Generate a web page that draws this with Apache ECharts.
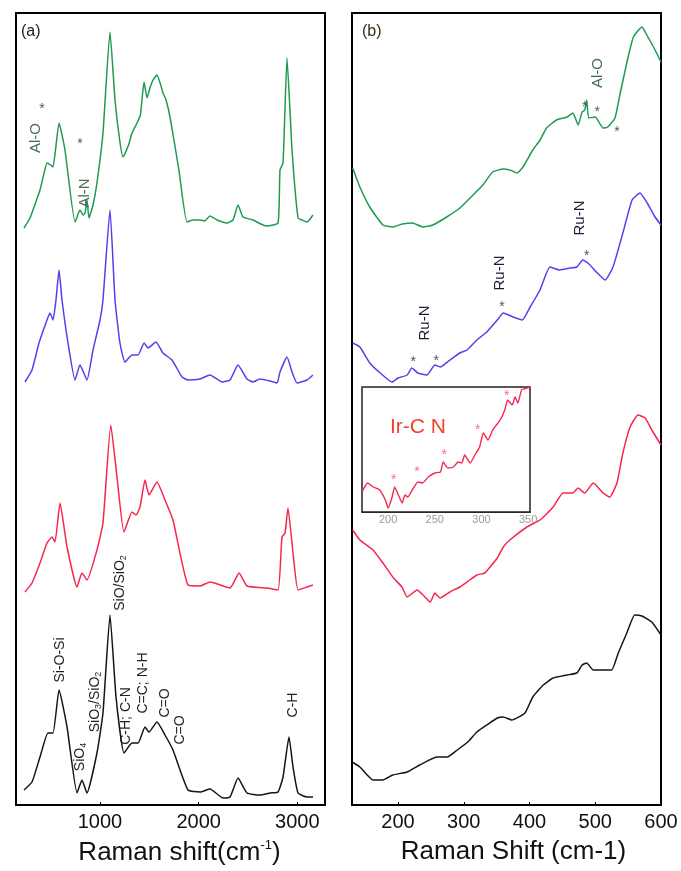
<!DOCTYPE html>
<html><head><meta charset="utf-8">
<script src="https://cdn.jsdelivr.net/npm/echarts@6/dist/echarts.min.js"></script>
<style>html,body{margin:0;padding:0;background:#fff}#c{width:681px;height:871px}</style>
</head><body><div id="c"></div>
<script>
// ---------- Panel (a): Raman shift (cm-1) vs intensity (a.u., offset) ----------
const aGreen = [[231,577],[292,587],[340,600],[393,615],[430,630],[464,642],[500,640],[525,638],[586,682],[646,655],[748,583],[798,595],[830,590],[849,592],[869,605],[889,587],[930,600],[970,622],[1031,672],[1102,773],[1153,705],[1200,665],[1234,648],[1290,660],[1325,672],[1376,682],[1410,690],[1447,723],[1477,707],[1510,718],[1538,725],[1578,730],[1610,722],[1639,712],[1670,705],[1710,688],[1800,635],[1882,583],[1943,585],[2014,585],[2060,584],[2115,589],[2186,585],[2287,582],[2348,585],[2399,600],[2450,588],[2551,585],[2652,580],[2693,579],[2804,582],[2824,635],[2855,642],[2895,747],[2946,655],[3007,587],[3050,585],[3098,583],[3158,590]];
const aBlue = [[241,423],[312,435],[383,462],[464,485],[494,492],[525,485],[555,505],[586,535],[616,505],[677,462],[748,425],[798,440],[869,425],[930,455],[1001,485],[1031,505],[1102,595],[1153,505],[1203,462],[1254,443],[1325,450],[1386,450],[1447,462],[1487,457],[1568,463],[1639,452],[1730,445],[1832,428],[1892,425],[2014,426],[2115,430],[2237,423],[2318,425],[2399,440],[2490,426],[2551,423],[2622,426],[2723,424],[2794,422],[2824,433],[2895,448],[2946,433],[2997,422],[3098,425],[3158,430]];
const aRed = [[241,213],[312,222],[393,242],[464,262],[515,268],[545,263],[596,302],[667,258],[768,218],[818,232],[869,225],[970,255],[1031,282],[1110,380],[1173,328],[1244,273],[1325,293],[1366,290],[1406,298],[1457,325],[1497,310],[1578,323],[1659,305],[1740,285],[1892,220],[2014,219],[2115,223],[2318,217],[2409,232],[2490,219],[2693,217],[2804,215],[2844,268],[2875,272],[2905,297],[2956,252],[3007,215],[3098,218],[3158,220]];
const aBlack = [[231,15],[312,23],[393,48],[474,72],[525,72],[586,115],[667,78],[768,12],[818,25],[869,12],[970,52],[1031,92],[1102,190],[1163,108],[1244,52],[1325,62],[1386,62],[1457,78],[1497,73],[1578,83],[1659,70],[1740,55],[1892,15],[2014,13],[2115,16],[2247,7],[2318,8],[2399,27],[2490,12],[2622,10],[2723,12],[2804,13],[2855,28],[2915,68],[2956,38],[3007,12],[3098,8],[3158,8]];

// ---------- Panel (b) ----------
const bGreen = [[131,637],[142,618],[157,598],[177,580],[192,578],[207,581],[222,582],[238,578],[253,580],[274,588],[294,597],[314,610],[329,620],[344,633],[360,636],[370,635],[381,632],[390,638],[405,655],[416,665],[426,677],[441,685],[457,688],[466,692],[474,680],[480,693],[484,695],[487,705],[490,687],[500,688],[512,677],[519,678],[530,687],[538,712],[549,745],[558,768],[571,778],[580,768],[591,755],[600,743]];
const bBlue = [[131,462],[142,458],[157,442],[173,432],[191,423],[200,427],[214,430],[221,437],[230,432],[244,430],[256,440],[264,438],[279,445],[294,452],[305,455],[320,465],[335,473],[351,485],[360,492],[375,488],[389,485],[401,498],[416,515],[431,538],[446,535],[462,537],[472,538],[481,545],[489,542],[503,532],[515,525],[527,538],[542,572],[556,605],[568,612],[579,602],[591,588],[600,580]];
const bRed = [[131,275],[142,265],[162,255],[177,242],[192,228],[206,218],[214,208],[229,215],[238,210],[249,203],[256,212],[264,207],[279,213],[294,218],[309,225],[320,230],[332,232],[340,238],[351,247],[360,258],[370,265],[396,278],[416,285],[436,298],[451,312],[466,312],[474,317],[484,312],[497,322],[512,312],[522,308],[533,322],[542,352],[553,378],[565,390],[576,387],[586,375],[600,360]];
const bBlack = [[130,43],[142,38],[162,25],[177,25],[192,30],[214,33],[233,40],[259,48],[275,48],[290,55],[306,63],[320,73],[335,80],[351,87],[360,88],[373,85],[393,92],[405,108],[421,120],[436,127],[457,130],[472,132],[480,140],[487,142],[497,135],[512,135],[525,135],[535,152],[548,172],[560,190],[571,189],[586,183],[600,170]];

// ---------- Inset (Ir-C N region) ----------
const insetRed = [[172,20],[178,29],[184,25],[191,22],[197,12],[200,4],[204,14],[207,25],[211,17],[215,9],[218,17],[221,15],[227,24],[232,30],[237,29],[243,35],[250,39],[256,40],[259,50],[264,44],[270,45],[275,50],[279,49],[282,57],[288,49],[293,57],[298,65],[302,79],[307,72],[312,82],[320,92],[325,102],[328,112],[333,107],[336,115],[339,109],[343,122],[349,124],[352,125]];

// ---------- Axis tick labels ----------
const aTicks = [1000, 2000, 3000];
const bTicks = [200, 300, 400, 500, 600];
const insetTicks = [200, 250, 300, 350];

// ---------- Annotations (text, panel, x, y in data units) ----------
const annA = [
  ['Al-O',0,353,667,'g',true],['*',0,413,700,'s',false],
  ['Al-N',0,849,612,'g',true],['*',0,798,665,'s',false],
  ['Si-O-Si',0,596,145,'k',true],['SiO{s|4}',0,798,48,'k',true],
  ['SiO{s|3}/SiO{s|2}',0,950,103,'k',true],['SiO/SiO{s|2}',0,1203,222,'k',true],
  ['C-H; C-N',0,1264,89,'k',true],['C=C; N-H',0,1436,122,'k',true],
  ['C=O',0,1659,102,'k',true],['C=O',0,1811,75,'k',true],['C-H',0,2956,100,'k',true]
];
const annB = [
  ['Ru-N',1,241,482,'n',true],['*',1,223,447,'s',false],['*',1,258,448,'s',false],
  ['Ru-N',1,355,532,'n',true],['*',1,358,502,'s',false],
  ['Ru-N',1,477,587,'n',true],['*',1,487,553,'s',false],
  ['Al-O',1,504,732,'g',true],['*',1,484,702,'s',false],['*',1,503,697,'s',false],['*',1,533,677,'s',false]
];
const annInset = [
  ['Ir-C N',2,232,85,'r',false],
  ['*',2,206,36,'p',false],['*',2,231,44,'p',false],['*',2,260,61,'p',false],['*',2,296,86,'p',false],['*',2,327,120,'p',false]
];

const FONT = '"Liberation Sans", Arial, Helvetica, sans-serif';
const chart = echarts.init(document.getElementById('c'), null, {renderer: 'canvas'});

function xAx(grid, min, max, split, ticks, fs, color, margin, name, nameGap, padLeft) {
  return {
    gridIndex: grid, type: 'value', min: min, max: max, splitNumber: split,
    splitLine: {show: false},
    axisLine: {show: true, lineStyle: {color: '#000', width: grid === 2 ? 1.5 : 2}},
    axisTick: {show: grid !== 2, inside: true, length: 3, lineStyle: {color: '#000'}},
    axisLabel: {
      show: true, color: color, fontSize: fs, fontFamily: FONT, margin: margin,
      showMinLabel: true, showMaxLabel: true,
      formatter: function (v) { return ticks.indexOf(Math.round(v)) >= 0 && Math.abs(v - Math.round(v)) < 1e-6 ? String(Math.round(v)) : ''; }
    },
    name: name, nameLocation: 'middle', nameGap: nameGap,
    nameTextStyle: {fontSize: 26, color: '#111', fontFamily: FONT, padding: [0, 0, 0, padLeft || 0],
      rich: {sup: {fontSize: 13, color: '#111', fontFamily: FONT, verticalAlign: 'top', padding: [0, 0, 14, 0]}}}
  };
}
function yAx(grid, max) {
  return {gridIndex: grid, type: 'value', min: 0, max: max, show: false, splitLine: {show: false}};
}
function ln(data, color, xi, w) {
  return {type: 'line', data: data, xAxisIndex: xi, yAxisIndex: xi, showSymbol: false, symbol: 'none',
    smooth: 0.15, lineStyle: {color: color, width: w || 1.5}, itemStyle: {color: color}, silent: true, z: 3};
}

const C = {green: '#1f9a52', blue: '#5140ee', red: '#f7264f', black: '#151515'};

chart.setOption({
  animation: false,
  backgroundColor: '#ffffff',
  grid: [
    {left: 16, top: 13, width: 309, height: 792, show: true, borderColor: '#000', borderWidth: 2, backgroundColor: 'rgba(0,0,0,0)'},
    {left: 352, top: 13, width: 309, height: 792, show: true, borderColor: '#000', borderWidth: 2, backgroundColor: 'rgba(0,0,0,0)'},
    {left: 362, top: 387, width: 168, height: 125, show: true, borderColor: '#222', borderWidth: 1.5, backgroundColor: '#fff', z: 4}
  ],
  xAxis: [
    xAx(0, 150, 3280, 3, aTicks, 20, '#111', 7, 'Raman shift(cm{sup|-1})', 34, 18),
    xAx(1, 130, 600, 5, bTicks, 20, '#111', 7, 'Raman Shift (cm-1)', 34, 14),
    xAx(2, 172, 352, 4, insetTicks, 11, '#9a9a9a', 2, '', 0, 0)
  ],
  yAxis: [yAx(0, 792), yAx(1, 792), yAx(2, 125)],
  series: [
    ln(aGreen, C.green, 0), ln(aBlue, C.blue, 0), ln(aRed, C.red, 0), ln(aBlack, C.black, 0),
    ln(bGreen, C.green, 1), ln(bBlue, C.blue, 1), ln(bRed, C.red, 1), ln(bBlack, C.black, 1),
    Object.assign(ln(insetRed, C.red, 2, 1.4), {z: 6})
  ]
});

const colorMap = {g: '#4a6b52', k: '#1e1e1e', n: '#1c1c38', s: '#555', r: '#f2402c', p: '#ff6a86'};
const graphics = [
  {type: 'text', x: 21, y: 24, style: {text: '(a)', fill: '#222', font: '16px ' + FONT}, z: 20},
  {type: 'text', x: 362, y: 24, style: {text: '(b)', fill: '#3a2a1a', font: '16px ' + FONT}, z: 20}
];
annA.concat(annB, annInset).forEach(function (a) {
  const p = chart.convertToPixel({gridIndex: a[1]}, [a[2], a[3]]);
  const isStar = a[0] === '*';
  const fs = a[4] === 'r' ? 21 : (isStar ? 14 : (a[1] === 0 && a[4] === 'k' ? 14 : 15));
  const g = {
    type: 'text', x: p[0], y: p[1] + (isStar ? 4 : 0), rotation: a[5] ? Math.PI / 2 : 0, z: 20,
    style: {
      text: a[0], fill: colorMap[a[4]], font: fs + 'px ' + FONT,
      textAlign: 'center', textVerticalAlign: 'middle', align: 'center', verticalAlign: 'middle',
      rich: {s: {fontSize: 9, fill: colorMap[a[4]], fontFamily: FONT, padding: [8, 0, 0, 0]}}
    }
  };
  graphics.push(g);
});
chart.setOption({graphic: graphics});
</script></body></html>
